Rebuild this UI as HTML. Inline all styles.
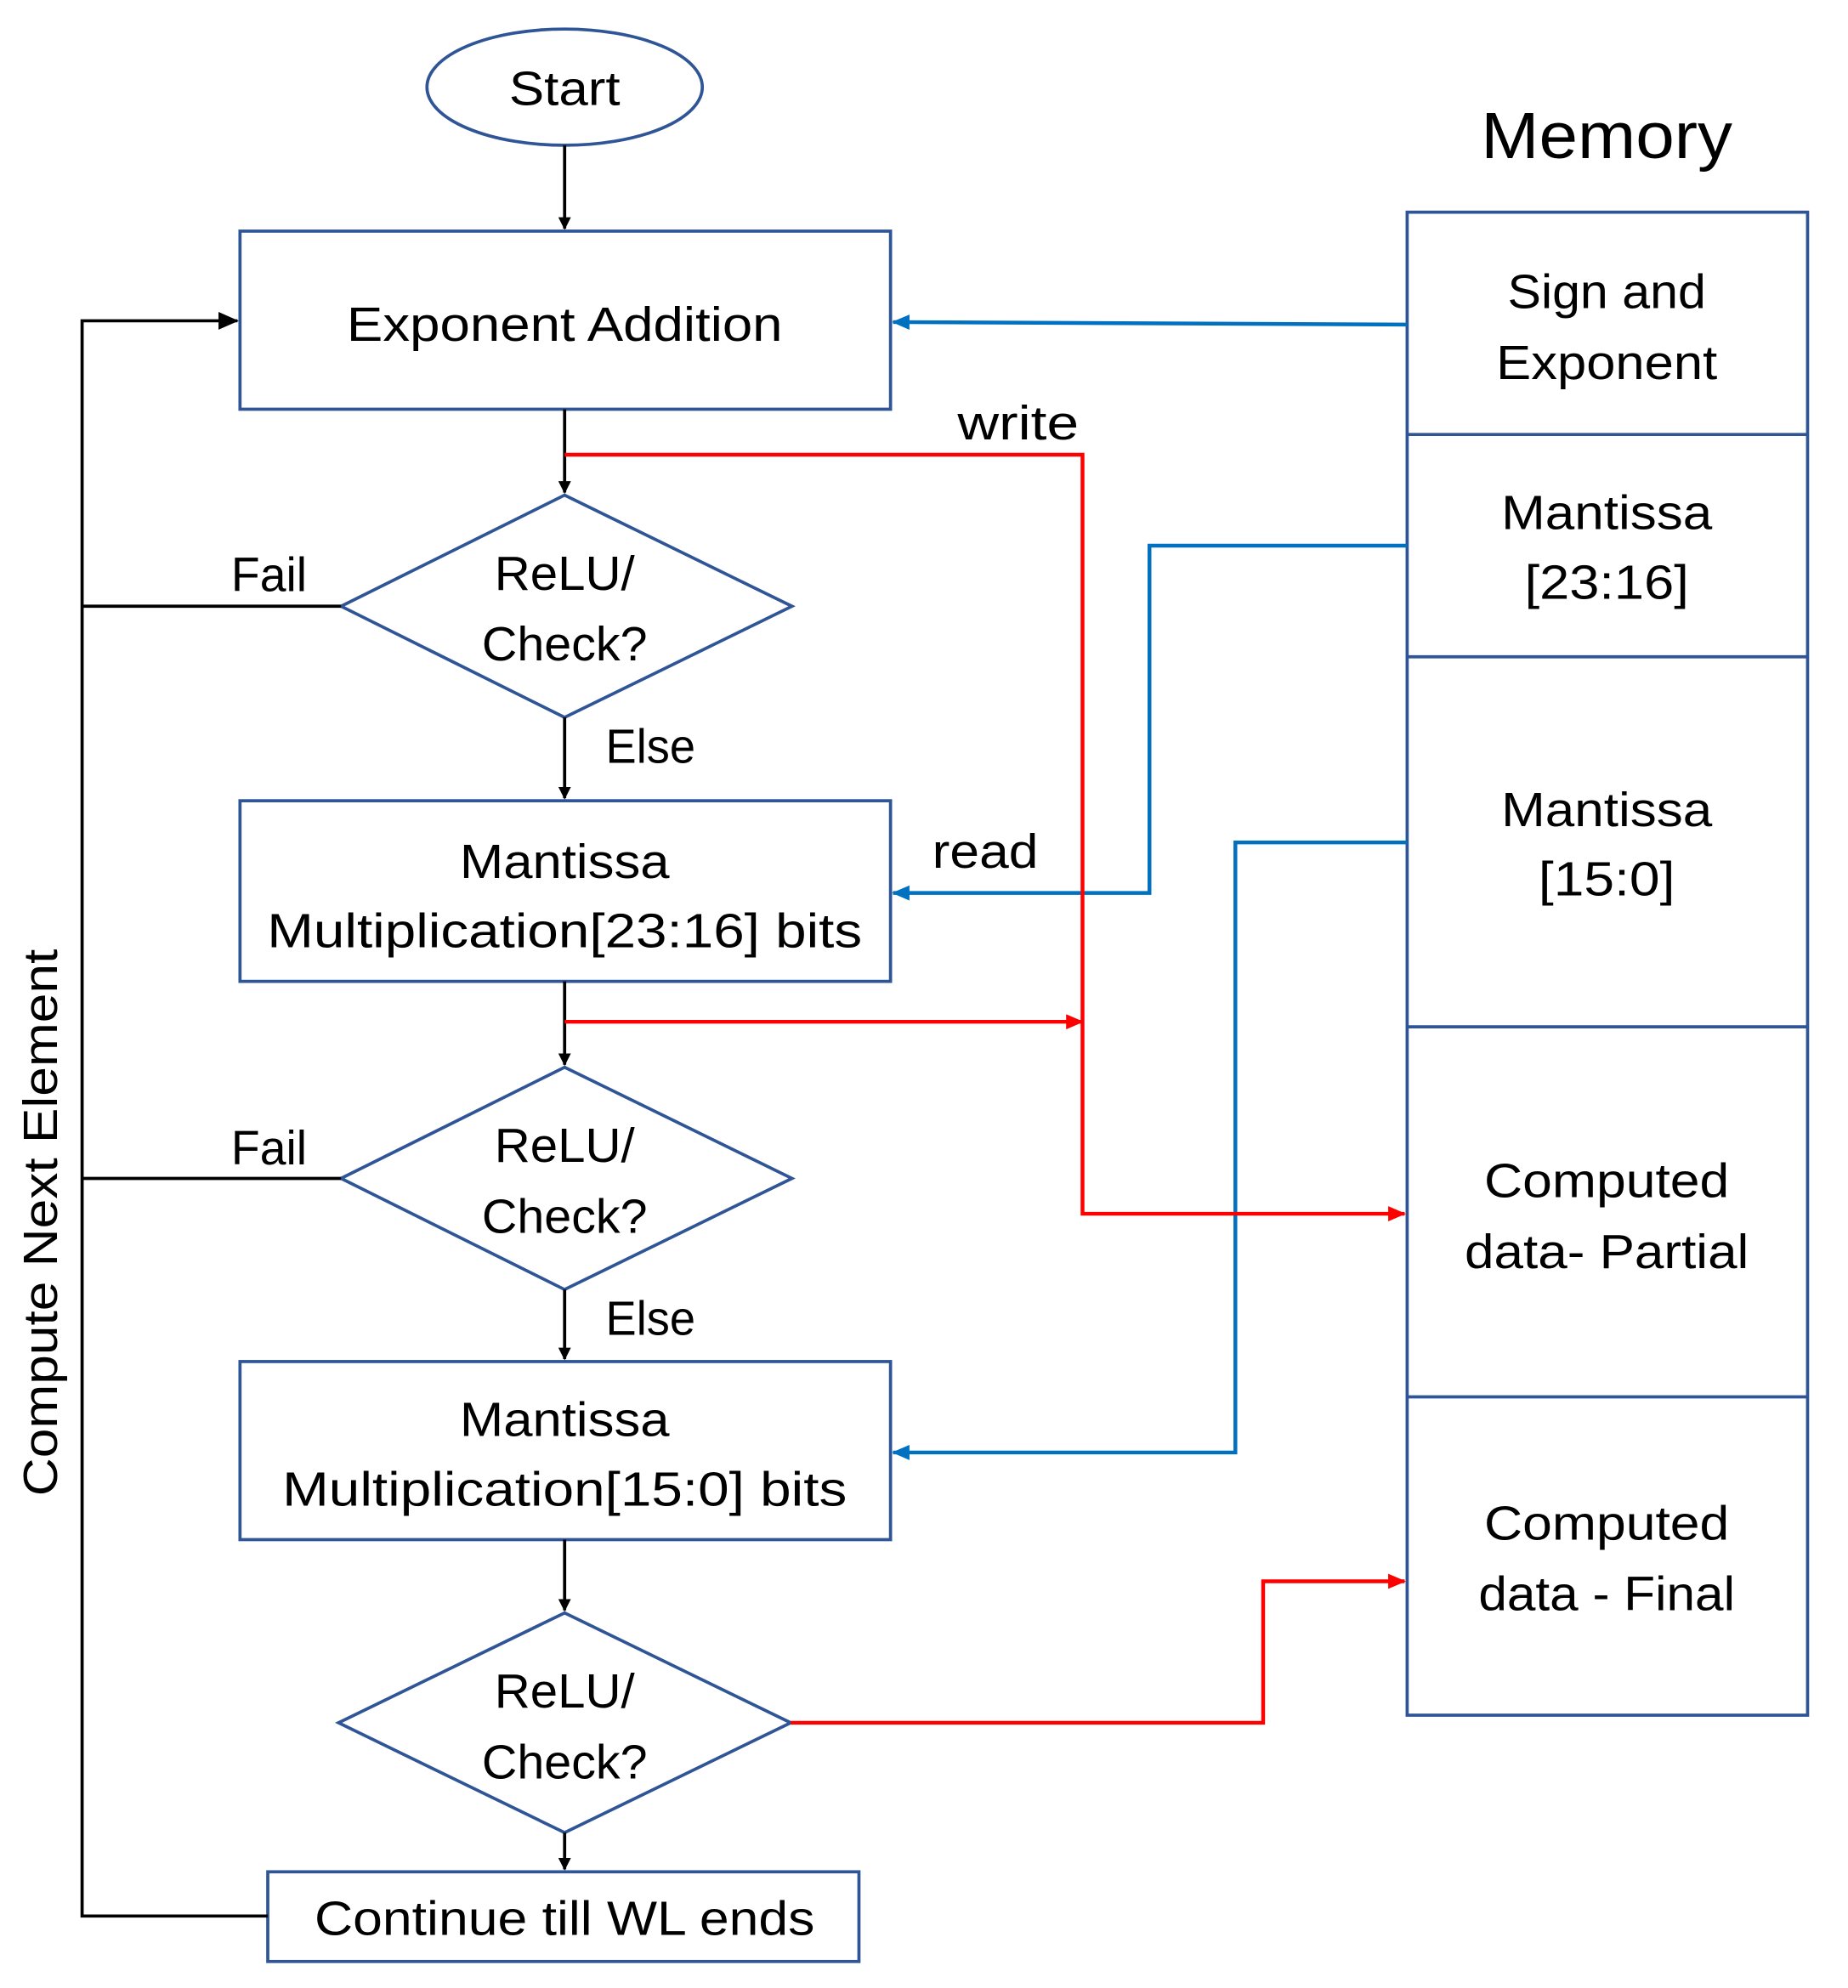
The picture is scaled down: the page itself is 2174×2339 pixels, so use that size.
<!DOCTYPE html>
<html><head><meta charset="utf-8"><style>
html,body{margin:0;padding:0;background:#fff;}
svg{display:block;}
text{font-family:"Liberation Sans",sans-serif;fill:#000;}
</style></head><body>
<svg width="2174" height="2339" viewBox="0 0 1463 1574" preserveAspectRatio="none" xmlns="http://www.w3.org/2000/svg">
<defs>
<marker id="ak" markerWidth="10" markerHeight="10" refX="9" refY="5" orient="auto" markerUnits="userSpaceOnUse"><path d="M0,0 L10,5 L0,10 z" fill="#000"/></marker>
<marker id="ab" markerWidth="14" markerHeight="12" refX="13" refY="6" orient="auto" markerUnits="userSpaceOnUse"><path d="M0,0 L14,6 L0,12 z" fill="#0070C0"/></marker>
<marker id="ar" markerWidth="14" markerHeight="12" refX="13" refY="6" orient="auto" markerUnits="userSpaceOnUse"><path d="M0,0 L14,6 L0,12 z" fill="#ff0000"/></marker>
<marker id="ak2" markerWidth="16" markerHeight="14" refX="15" refY="7" orient="auto" markerUnits="userSpaceOnUse"><path d="M0,0 L16,7 L0,14 z" fill="#000"/></marker>
</defs>
<g fill="none" stroke="#2F5597" stroke-width="2.5">
<ellipse cx="447" cy="69" rx="109" ry="46"/>
<rect x="190" y="183" width="515" height="141"/>
<polygon points="270,480 447,392 627,480 447,568"/>
<rect x="190" y="634" width="515" height="143"/>
<polygon points="270,933 447,845 627,933 447,1021"/>
<rect x="190" y="1078" width="515" height="141"/>
<polygon points="268,1364 447,1277 626,1364 447,1451"/>
<rect x="212" y="1482" width="468" height="71"/>
<rect x="1114" y="168" width="317" height="1190"/>
<line x1="1114" y1="344" x2="1431" y2="344"/>
<line x1="1114" y1="520" x2="1431" y2="520"/>
<line x1="1114" y1="813" x2="1431" y2="813"/>
<line x1="1114" y1="1106" x2="1431" y2="1106"/>
</g>
<g fill="none" stroke="#000" stroke-width="2.5">
<line x1="447" y1="115" x2="447" y2="181" marker-end="url(#ak)"/>
<line x1="447" y1="324" x2="447" y2="390" marker-end="url(#ak)"/>
<line x1="447" y1="568" x2="447" y2="632" marker-end="url(#ak)"/>
<line x1="447" y1="777" x2="447" y2="843" marker-end="url(#ak)"/>
<line x1="447" y1="1021" x2="447" y2="1076" marker-end="url(#ak)"/>
<line x1="447" y1="1219" x2="447" y2="1275" marker-end="url(#ak)"/>
<line x1="447" y1="1451" x2="447" y2="1480" marker-end="url(#ak)"/>
<polyline points="212,1517 65,1517 65,254 188,254" marker-end="url(#ak2)"/>
<line x1="270" y1="480" x2="65" y2="480"/>
<line x1="270" y1="933" x2="65" y2="933"/>
</g>
<g fill="none" stroke="#0070C0" stroke-width="3">
<polyline points="1114,257 707,255" marker-end="url(#ab)"/>
<polyline points="1114,432 910,432 910,707 707,707" marker-end="url(#ab)"/>
<polyline points="1114,667 978,667 978,1150 707,1150" marker-end="url(#ab)"/>
</g>
<g fill="none" stroke="#ff0000" stroke-width="3">
<polyline points="447,360 857,360 857,961 1112,961" marker-end="url(#ar)"/>
<polyline points="447,809 857,809" marker-end="url(#ar)"/>
<polyline points="626,1364 1000,1364 1000,1252 1112,1252" marker-end="url(#ar)"/>
</g>
<g font-size="38" text-anchor="middle">
<text x="447" y="83" textLength="88" lengthAdjust="spacingAndGlyphs">Start</text>
<text x="447" y="270" textLength="345" lengthAdjust="spacingAndGlyphs">Exponent Addition</text>
<text x="447" y="467" textLength="111" lengthAdjust="spacingAndGlyphs">ReLU/</text>
<text x="447" y="523" textLength="131" lengthAdjust="spacingAndGlyphs">Check?</text>
<text x="213" y="468" textLength="60" lengthAdjust="spacingAndGlyphs">Fail</text>
<text x="515" y="604" textLength="71" lengthAdjust="spacingAndGlyphs">Else</text>
<text x="447" y="695" textLength="166" lengthAdjust="spacingAndGlyphs">Mantissa</text>
<text x="447" y="750" textLength="471" lengthAdjust="spacingAndGlyphs">Multiplication[23:16] bits</text>
<text x="447" y="920" textLength="111" lengthAdjust="spacingAndGlyphs">ReLU/</text>
<text x="447" y="976" textLength="131" lengthAdjust="spacingAndGlyphs">Check?</text>
<text x="213" y="922" textLength="60" lengthAdjust="spacingAndGlyphs">Fail</text>
<text x="515" y="1057" textLength="71" lengthAdjust="spacingAndGlyphs">Else</text>
<text x="447" y="1137" textLength="166" lengthAdjust="spacingAndGlyphs">Mantissa</text>
<text x="447" y="1192" textLength="447" lengthAdjust="spacingAndGlyphs">Multiplication[15:0] bits</text>
<text x="447" y="1352" textLength="111" lengthAdjust="spacingAndGlyphs">ReLU/</text>
<text x="447" y="1408" textLength="131" lengthAdjust="spacingAndGlyphs">Check?</text>
<text x="447" y="1532" textLength="396" lengthAdjust="spacingAndGlyphs">Continue till WL ends</text>
<text x="806" y="348" textLength="96" lengthAdjust="spacingAndGlyphs">write</text>
<text x="780" y="687" textLength="84" lengthAdjust="spacingAndGlyphs">read</text>
<text x="1272" y="125" font-size="52" textLength="199" lengthAdjust="spacingAndGlyphs">Memory</text>
<text x="1272" y="244" textLength="157" lengthAdjust="spacingAndGlyphs">Sign and</text>
<text x="1272" y="300" textLength="175" lengthAdjust="spacingAndGlyphs">Exponent</text>
<text x="1272" y="419" textLength="167" lengthAdjust="spacingAndGlyphs">Mantissa</text>
<text x="1272" y="474" textLength="130" lengthAdjust="spacingAndGlyphs">[23:16]</text>
<text x="1272" y="654" textLength="167" lengthAdjust="spacingAndGlyphs">Mantissa</text>
<text x="1272" y="709" textLength="108" lengthAdjust="spacingAndGlyphs">[15:0]</text>
<text x="1272" y="948" textLength="194" lengthAdjust="spacingAndGlyphs">Computed</text>
<text x="1272" y="1004" textLength="225" lengthAdjust="spacingAndGlyphs">data- Partial</text>
<text x="1272" y="1219" textLength="194" lengthAdjust="spacingAndGlyphs">Computed</text>
<text x="1272" y="1275" textLength="203" lengthAdjust="spacingAndGlyphs">data - Final</text>
<text transform="translate(45,968) rotate(-90)" x="0" y="0" textLength="433" lengthAdjust="spacingAndGlyphs">Compute Next Element</text>
</g>
</svg>
</body></html>
